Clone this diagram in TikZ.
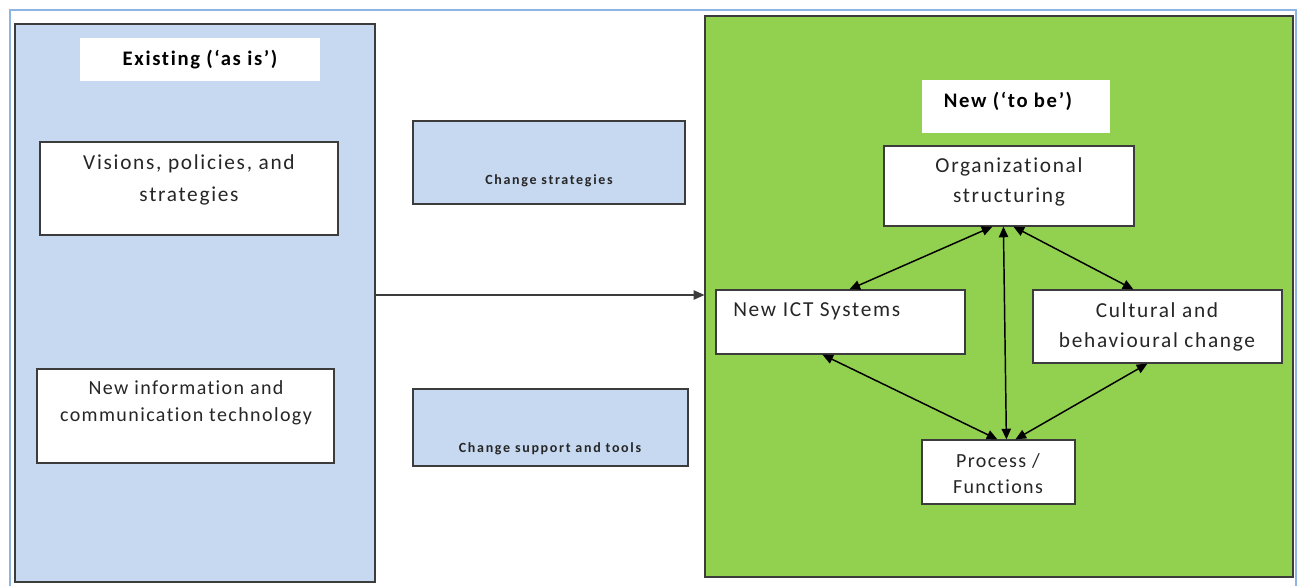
\documentclass[tikz,border=0pt]{standalone}
\usepackage{fontspec}
\setmainfont{Carlito}[Ligatures=NoCommon]
\usetikzlibrary{fit,calc,arrows.meta,shadows}
\definecolor{frameblue}{HTML}{8EB4E3}
\definecolor{boxblue}{HTML}{C6D9F1}
\definecolor{boxgreen}{HTML}{92D050}
\definecolor{edgegray}{HTML}{3C3C3C}
\begin{document}
\begin{tikzpicture}[x=0.75pt,y=-0.75pt,
  panel/.style={draw=edgegray, line width=0.9pt, inner sep=0pt,
     drop shadow={shadow xshift=0.9pt,shadow yshift=-0.9pt,fill=black,opacity=0.35}},
  wbox/.style={panel, fill=white},
  bbox/.style={panel, fill=boxblue},
  titlebox/.style={fill=white, draw=none, inner sep=0pt},
  txt/.style={inner sep=0pt, align=center, text=black!85, font=\fontsize{16}{24}\selectfont\addfontfeature{LetterSpace=8}},
  ttl/.style={inner sep=0pt, font=\fontsize{15.5}{18}\selectfont\bfseries\addfontfeature{LetterSpace=8}},
  small/.style={inner sep=0pt, text=black!85, font=\fontsize{10.5}{12}\selectfont\bfseries\addfontfeature{LetterSpace=12}},
  link/.style={line width=1.1pt, {Triangle[length=8pt,width=7pt]}-{Triangle[length=8pt,width=7pt]}},
  one/.style={line width=0.9pt, draw=edgegray, -{Triangle[length=8pt,width=7pt]}}
]
\useasboundingbox (0,0) rectangle (1301,585);
\begin{scope}
\clip (0,0) rectangle (1301,585);
\draw[frameblue, line width=1.3pt] (10,10) rectangle (1296,640);
\node[bbox, fit={(15,24)(375,582)}] (existing) {};
\node[panel, fill=boxgreen, fit={(705,16)(1293,577)}] (newbox) {};
\end{scope}

% left side
\node[titlebox, fit={(80,38)(320,81)}] (exT) {};
\node[ttl] (exL) at (200,60) {Existing (‘as is’)};
\node[wbox, fit={(40,142)(338,235)}] (vis) {};
\node[txt] (visL) at (189,180) {Visions, policies, and\\strategies};
\node[wbox, fit={(37,369)(334,463)}] (info) {};
\node[txt, font=\fontsize{15}{20}\selectfont\addfontfeature{LetterSpace=7}] (infoL) at (186,403) {New information and\\communication technology};

% middle
\node[bbox, fit={(413,121)(685,204)}] (cs) {};
\node[small] (csL) at (549,181) {Change strategies};
\node[bbox, fit={(413,389)(688,466)}] (sup) {};
\node[small] (supL) at (550,449) {Change support and tools};

\coordinate (ay) at (0,295);
\draw[one] (existing.east |- ay) -- (newbox.west |- ay);

% right side
\node[titlebox, fit={(922,80)(1110,133)}] (nT) {};
\node[ttl] (nL) at (1008,101) {New (‘to be’)};
\node[wbox, fit={(884,146)(1134,226)}] (org) {};
\node[txt, font=\fontsize{16}{22.5}\selectfont\addfontfeature{LetterSpace=8}] (orgL) at (1009,182) {Organizational\\structuring};
\node[wbox, fit={(716,290)(965,354)}] (ict) {};
\node[txt, anchor=west] (ictL) at (733,311) {New ICT Systems};
\node[wbox, fit={(1033,290)(1282,363)}] (cul) {};
\node[txt, font=\fontsize{16}{23}\selectfont\addfontfeature{LetterSpace=8}] (culL) at (1157,327) {Cultural and\\behavioural change};
\node[wbox, fit={(922,440)(1075,504)}] (proc) {};
\node[txt, font=\fontsize{15}{19.5}\selectfont\addfontfeature{LetterSpace=7}] (procL) at (998,474) {Process /\\Functions};

\draw[link] ($(ict.north west)+(134,0)$) -- ($(org.south west)+(109,0)$);
\draw[link] ($(org.south west)+(130,0)$) -- ($(cul.north west)+(101,0)$);
\draw[link] ($(org.south west)+(120,0)$) -- ($(proc.north west)+(85,0)$);
\draw[link] ($(ict.south west)+(107,0)$) -- ($(proc.north west)+(76,0)$);
\draw[link] ($(cul.south west)+(115,0)$) -- ($(proc.north west)+(94,0)$);
\end{tikzpicture}
\end{document}
